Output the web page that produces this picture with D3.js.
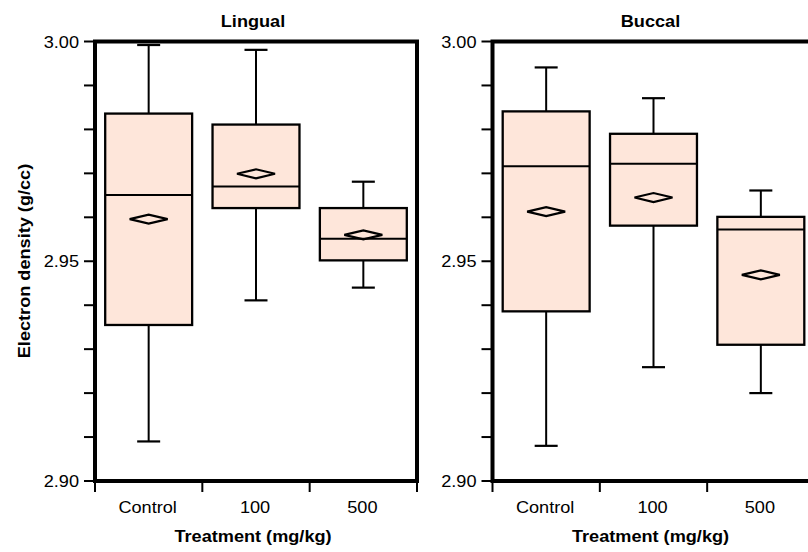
<!DOCTYPE html>
<html>
<head>
<meta charset="utf-8">
<script src="https://cdn.jsdelivr.net/npm/d3@7"></script>
<style>
  body { margin: 0; background: #fff; }
  svg { display: block; font-family: "Liberation Sans", Arial, sans-serif; }
</style>
</head>
<body>
<svg width="808" height="552"></svg>
<script>
const width = 808;
const height = 552;

// data
const groups = ["Control", "100", "500"];
const panels = ["Lingual", "Buccal"];
const lingualLow    = [2.9090, 2.9411, 2.9440];
const lingualQ1     = [2.9355, 2.9621, 2.9502];
const lingualMedian = [2.9651, 2.9670, 2.9551];
const lingualQ3     = [2.9836, 2.9811, 2.9621];
const lingualHigh   = [2.9992, 2.9981, 2.9681];
const lingualMean   = [2.9596, 2.9699, 2.9560];
const buccalLow     = [2.9080, 2.9259, 2.9200];
const buccalQ1      = [2.9386, 2.9581, 2.9310];
const buccalMedian  = [2.9716, 2.9722, 2.9572];
const buccalQ3      = [2.9841, 2.9790, 2.9601];
const buccalHigh    = [2.9941, 2.9871, 2.9661];
const buccalMean    = [2.9613, 2.9645, 2.9469];
const yTicks = [2.90, 2.95, 3.00];
const yMinor = d3.range(2.90, 3.0001, 0.01);

const boxFill = "#fee6da";
const sx = 1.1; // the labels in the picture are a bit wide
const fs = 16.5;

const svg = d3.select("svg");

const y = d3.scaleLinear().domain([2.90, 3.00]).range([481, 41.5]);

function buildRows(low, q1, med, q3, high, mean) {
    return groups.map((g, i) => ({
        group: g, low: low[i], q1: q1[i], median: med[i], q3: q3[i], high: high[i], mean: mean[i]
    }));
}

const panelData = [
    buildRows(lingualLow, lingualQ1, lingualMedian, lingualQ3, lingualHigh, lingualMean),
    buildRows(buccalLow, buccalQ1, buccalMedian, buccalQ3, buccalHigh, buccalMean)
];

const panelLeft = [95, 492.5];
const panelWidth = 322;

function wideText(sel, x, yy) {
    return sel.attr("transform", `translate(${x},${yy}) scale(${sx},1)`);
}

panels.forEach((name, p) => {
    const x0 = panelLeft[p];
    const x = d3.scaleBand().domain(groups).range([x0, x0 + panelWidth]).paddingInner(0).paddingOuter(0);
    const g = svg.append("g");
    const bw = x.bandwidth() * 0.81;

    // title
    wideText(g.append("text"), x0 + panelWidth / 2 - 3, 27)
        .attr("text-anchor", "middle")
        .attr("font-size", fs)
        .attr("font-weight", "bold")
        .text(name);

    // boxes
    const box = g.selectAll("g.box")
        .data(panelData[p])
        .enter().append("g")
        .attr("class", "box");

    const cx = d => x(d.group) + x.bandwidth() / 2;

    box.append("line")
        .attr("x1", cx).attr("x2", cx)
        .attr("y1", d => y(d.high)).attr("y2", d => y(d.low))
        .attr("stroke", "#000").attr("stroke-width", 2);

    box.selectAll("line.cap")
        .data(d => [d.low, d.high].map(v => ({ c: cx(d), v: v })))
        .enter().append("line")
        .attr("class", "cap")
        .attr("x1", d => d.c - 11.5).attr("x2", d => d.c + 11.5)
        .attr("y1", d => y(d.v)).attr("y2", d => y(d.v))
        .attr("stroke", "#000").attr("stroke-width", 2.2);

    box.append("rect")
        .attr("x", d => cx(d) - bw / 2)
        .attr("width", bw)
        .attr("y", d => y(d.q3))
        .attr("height", d => y(d.q1) - y(d.q3))
        .attr("fill", boxFill)
        .attr("stroke", "#000").attr("stroke-width", 2.3);

    box.append("line")
        .attr("x1", d => cx(d) - bw / 2).attr("x2", d => cx(d) + bw / 2)
        .attr("y1", d => y(d.median)).attr("y2", d => y(d.median))
        .attr("stroke", "#000").attr("stroke-width", 2);

    box.append("path")
        .attr("d", d => {
            const c = cx(d), m = y(d.mean);
            return `M${c - 19},${m}L${c},${m - 4.5}L${c + 19},${m}L${c},${m + 4.5}Z`;
        })
        .attr("fill", "none")
        .attr("stroke", "#000").attr("stroke-width", 2.2);

    // y axis ticks
    g.selectAll("line.ytick")
        .data(yMinor)
        .enter().append("line")
        .attr("x1", x0 - 11).attr("x2", x0)
        .attr("y1", d => y(d)).attr("y2", d => y(d))
        .attr("stroke", "#000").attr("stroke-width", 2);

    g.selectAll("text.ylab")
        .data(yTicks)
        .enter().append("text")
        .attr("class", "ylab")
        .each(function(d) { wideText(d3.select(this), x0 - 16, y(d) + 6); })
        .attr("text-anchor", "end")
        .attr("font-size", fs)
        .text(d => d3.format(".2f")(d));

    // x axis ticks at band edges
    const edges = groups.map(d => x(d)).concat([x0 + panelWidth]);
    g.selectAll("line.xtick")
        .data(edges)
        .enter().append("line")
        .attr("x1", d => d).attr("x2", d => d)
        .attr("y1", 481).attr("y2", 492)
        .attr("stroke", "#000").attr("stroke-width", 2);

    g.selectAll("text.xlab")
        .data(groups)
        .enter().append("text")
        .each(function(d) { wideText(d3.select(this), x(d) + x.bandwidth() / 2 - 1, 513); })
        .attr("text-anchor", "middle")
        .attr("font-size", fs)
        .text(d => d);

    wideText(g.append("text"), x0 + panelWidth / 2 - 3, 542)
        .attr("text-anchor", "middle")
        .attr("font-size", fs)
        .attr("font-weight", "bold")
        .text("Treatment (mg/kg)");

    // frame
    g.append("rect")
        .attr("x", x0).attr("y", 41.5)
        .attr("width", panelWidth).attr("height", 481 - 41.5)
        .attr("fill", "none")
        .attr("stroke", "#000").attr("stroke-width", 4);
});

svg.append("text")
    .attr("transform", "translate(30,261) rotate(-90) scale(1.1,1)")
    .attr("text-anchor", "middle")
    .attr("font-size", fs)
    .attr("font-weight", "bold")
    .text("Electron density (g/cc)");
</script>
</body>
</html>
